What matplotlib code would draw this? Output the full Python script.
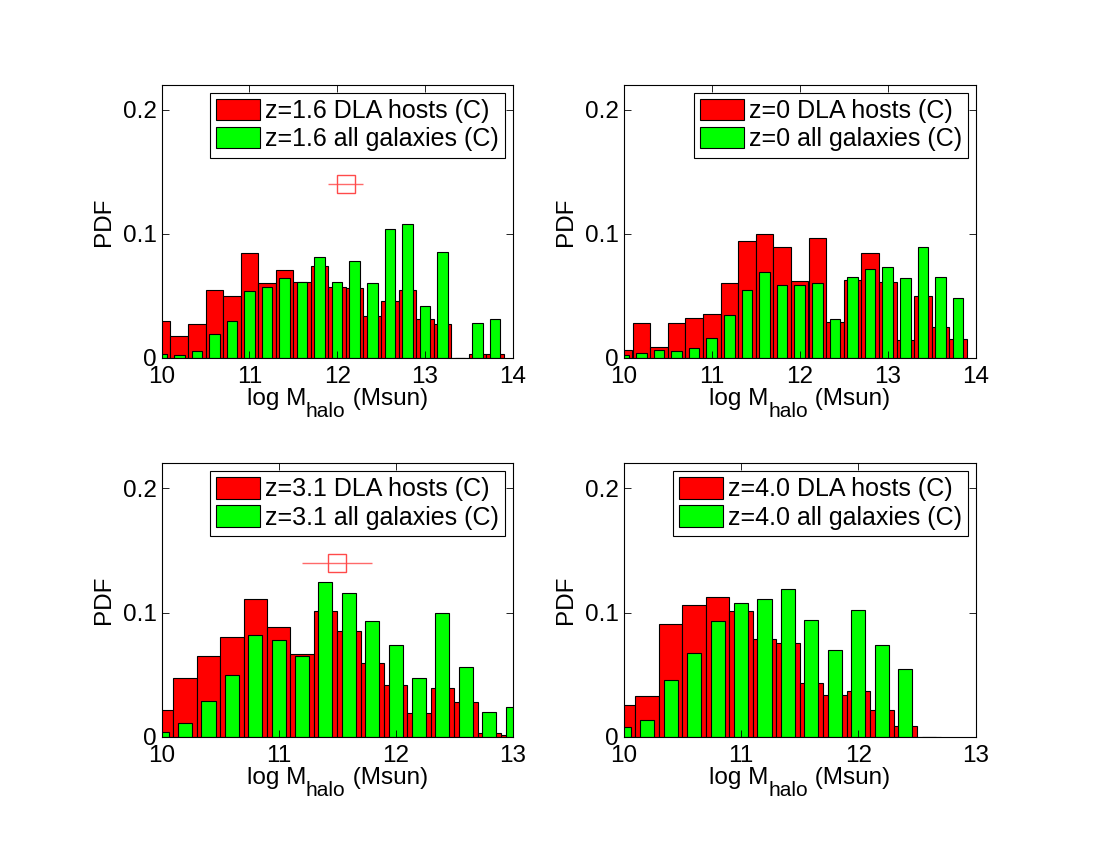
import matplotlib
matplotlib.use("Agg")
import matplotlib.pyplot as plt

plt.rcParams["font.family"] = ["Liberation Sans", "DejaVu Sans"]
plt.rcParams["font.size"] = 17.5

# bin centres, log M_halo
bins_wide = [10.0, 10.2, 10.4, 10.6, 10.8, 11.0, 11.2, 11.4, 11.6, 11.8,
             12.0, 12.2, 12.4, 12.6, 12.8, 13.0, 13.2, 13.4, 13.6, 13.8]
bins_z31 = [10.0, 10.2, 10.4, 10.6, 10.8, 11.0, 11.2, 11.4, 11.6, 11.8,
            12.0, 12.2, 12.4, 12.6, 12.8, 13.0]
bins_z40 = [10.0, 10.2, 10.4, 10.6, 10.8, 11.0, 11.2, 11.4, 11.6, 11.8,
            12.0, 12.2, 12.4, 12.6]

# z=1.6
dla_z16 = [0.0295, 0.0174, 0.027, 0.055, 0.050, 0.0845, 0.060, 0.071, 0.061, 0.074,
           0.057, 0.056, 0.034, 0.046, 0.055, 0.031, 0.027, 0.0, 0.003, 0.0035]
gal_z16 = [0.003, 0.002, 0.0056, 0.019, 0.030, 0.054, 0.057, 0.064, 0.061, 0.081,
           0.061, 0.078, 0.060, 0.104, 0.108, 0.042, 0.0855, 0.0, 0.028, 0.031]
# z=0
dla_z0 = [0.0067, 0.0283, 0.009, 0.0278, 0.032, 0.035, 0.060, 0.094, 0.100, 0.089,
          0.062, 0.097, 0.029, 0.0625, 0.0845, 0.061, 0.014, 0.050, 0.0246, 0.0155]
gal_z0 = [0.002, 0.004, 0.0067, 0.0056, 0.008, 0.016, 0.0345, 0.055, 0.069, 0.059,
          0.059, 0.060, 0.031, 0.065, 0.072, 0.073, 0.064, 0.089, 0.065, 0.048]
# z=3.1
dla_z31 = [0.022, 0.0477, 0.0654, 0.0807, 0.1107, 0.0887, 0.067, 0.101, 0.085, 0.0595,
           0.0416, 0.019, 0.039, 0.028, 0.003, 0.0013]
gal_z31 = [0.004, 0.0113, 0.029, 0.050, 0.082, 0.0777, 0.065, 0.1247, 0.1155, 0.0928,
           0.074, 0.0477, 0.0995, 0.0566, 0.0198, 0.0244]
# z=4.0
dla_z40 = [0.0255, 0.0327, 0.091, 0.1064, 0.1123, 0.101, 0.0788, 0.0756, 0.0437, 0.034,
           0.0367, 0.0214, 0.0088, 0.0]
gal_z40 = [0.008, 0.0137, 0.046, 0.0676, 0.0928, 0.1078, 0.1105, 0.1193, 0.094, 0.0697,
           0.102, 0.0743, 0.0547, 0.0]

# observed point: (log M, xerr, PDF)
obs_z16 = (12.1, 0.2, 0.14)
obs_z31 = (11.5, 0.3, 0.14)

panels = [
    ("1.6", bins_wide, dla_z16, gal_z16, (10, 14), [10, 11, 12, 13, 14], obs_z16),
    ("0", bins_wide, dla_z0, gal_z0, (10, 14), [10, 11, 12, 13, 14], None),
    ("3.1", bins_z31, dla_z31, gal_z31, (10, 13), [10, 11, 12, 13], obs_z31),
    ("4.0", bins_z40, dla_z40, gal_z40, (10, 13), [10, 11, 12, 13], None),
]

# axes rectangles in figure fractions
positions = [
    [0.147, 0.579, 0.319, 0.321],
    [0.567, 0.579, 0.320, 0.321],
    [0.147, 0.133, 0.319, 0.322],
    [0.567, 0.133, 0.320, 0.322],
]

W, H = 1100, 850
fig = plt.figure(figsize=(W / 100, H / 100), dpi=100)
axes = []

for (z, bins, dla, gal, xlim, xticks, obs), pos in zip(panels, positions):
    ax = fig.add_axes(pos)
    axes.append(ax)
    ax.bar(bins, dla, width=0.2, color="#ff0000", edgecolor="black",
           linewidth=0.8, label=f"z={z} DLA hosts (C)")
    ax.bar(bins, gal, width=0.12, color="#00ff00", edgecolor="black",
           linewidth=0.8, label=f"z={z} all galaxies (C)")
    if obs is not None:
        ax.errorbar([obs[0]], [obs[2]], xerr=[obs[1]], fmt="s", color="#ff6a6a",
                    mfc="none", mec="#ff4a4a", ms=12.5, mew=1.0, elinewidth=1.0,
                    capsize=0)
    ax.set_xlim(*xlim)
    ax.set_ylim(0, 0.22)
    ax.set_xticks(xticks)
    ax.set_yticks([0, 0.1, 0.2])
    ax.set_yticklabels(["0", "0.1", "0.2"])
    ax.tick_params(axis="x", pad=6)
    ax.tick_params(direction="in", top=True, right=True, length=5, width=0.6,
                   labelsize=17.5)
    for sp in ax.spines.values():
        sp.set_linewidth(0.8)
    ax.set_ylabel("PDF", labelpad=6)
    leg = ax.legend(loc="upper right", fontsize=18, fancybox=False,
                    edgecolor="black", framealpha=1, handlelength=1.75,
                    handleheight=0.95, handletextpad=0.2, labelspacing=0.15,
                    borderpad=0.25, borderaxespad=0.3)
    leg.get_frame().set_linewidth(0.8)

# x label in MATLAB style: "log M" with a dropped subscript "halo"
fig.canvas.draw()
renderer = fig.canvas.get_renderer()
label_parts = [("log M", 17.5, 0), ("halo", 15, -12.5), (" (Msun)", 17.5, 0)]
for ax, pos in zip(axes, positions):
    cx = (pos[0] + pos[2] / 2) * W
    base = pos[1] * H - 47
    pieces = [fig.text(0, 0, s, fontsize=fs, va="baseline") for s, fs, dy in label_parts]
    widths = [t.get_window_extent(renderer).width for t in pieces]
    x = cx - sum(widths) / 2
    for t, w, (s, fs, dy) in zip(pieces, widths, label_parts):
        t.set_position((x / W, (base + dy) / H))
        x += w

fig.savefig("out.png", dpi=100)
